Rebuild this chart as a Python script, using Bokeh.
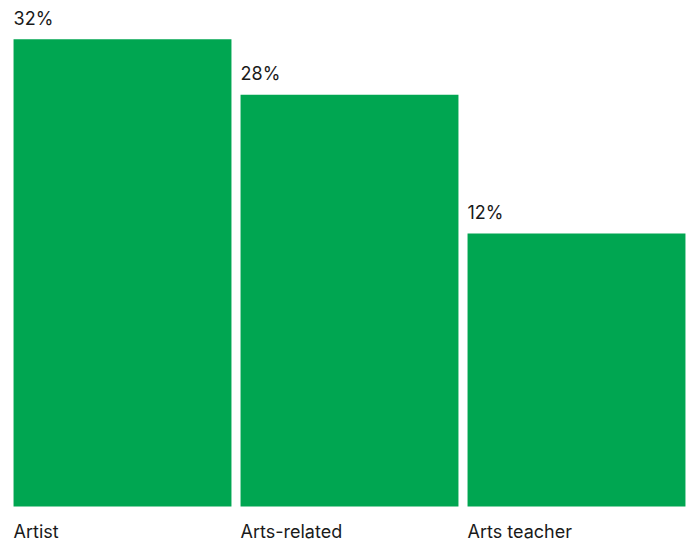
from bokeh.plotting import figure
from bokeh.models import ColumnDataSource, Range1d
from bokeh.core.properties import value
from bokeh.embed import file_html
from bokeh.resources import INLINE

categories = ["Artist", "Arts-related", "Arts teacher"]
pct_labels = ["32%", "28%", "12%"]
bar_heights = [32, 28.2, 18.7]

FONT = "Inter"
GREEN = "#00A651"
TEXT = "#1a1a1a"

xs = list(range(len(categories)))
bar_w = 0.96
src = ColumnDataSource(dict(
    x=xs,
    left=[x - bar_w / 2 for x in xs],
    top=bar_heights,
    cat=categories,
    pct=pct_labels,
    zero=[0] * len(xs),
))

W, H = 691, 544
u = 227.0   # px per category step
s = 14.6    # px per value unit
p = figure(width=W, height=H, output_backend="svg", toolbar_location=None,
           x_range=Range1d(-122 / u, (W - 122) / u),
           y_range=Range1d(-(H - 506) / s, 506 / s),
           min_border=0, outline_line_color=None)
p.axis.visible = False
p.grid.visible = False
p.background_fill_color = "white"
p.border_fill_color = "white"

p.vbar(x="x", top="top", bottom=0, width=bar_w, source=src,
       fill_color=GREEN, line_color=None)

p.text(x="left", y="top", text="pct", source=src, y_offset=-21,
       text_font=value(FONT), text_font_size="18px", text_color=TEXT,
       text_align="left", text_baseline="alphabetic")
p.text(x="left", y="zero", text="cat", source=src, y_offset=25,
       text_font=value(FONT), text_font_size="18px", text_color=TEXT,
       text_align="left", text_baseline="alphabetic")

open("out.html", "w").write(file_html(p, INLINE))
